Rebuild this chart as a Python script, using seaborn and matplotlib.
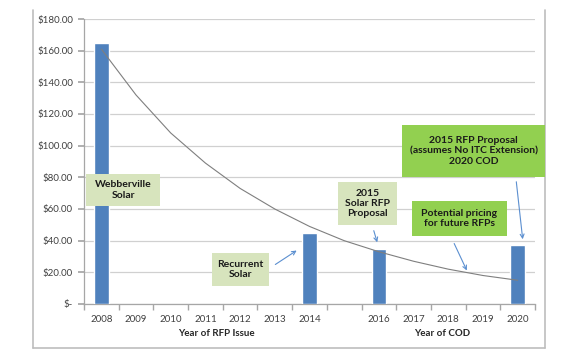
import numpy as np
import pandas as pd
import matplotlib
matplotlib.use('Agg')
import matplotlib.pyplot as plt
from matplotlib.patches import Rectangle, FancyArrowPatch
from matplotlib.lines import Line2D
import seaborn as sns

# Categories on the x axis (one empty slot between 2014 and 2016)
categories = ['2008', '2009', '2010', '2011', '2012', '2013', '2014',
              ' ', '2016', '2017', '2018', '2019', '2020']

# Bar values ($/MWh)
bar_years = ['2008', '2014', '2016', '2020']
bar_prices = [165, 45, 35, 37]

# Trend line, one value per category slot
trend_prices = [161, 132, 108, 89, 73, 60, 49, 40, 33, 27, 22, 18, 15]

ytick_values = [0, 20, 40, 60, 80, 100, 120, 140, 160, 180]

W, H = 580, 361


def px(x, y):
    # pixel position in the reference -> figure fraction
    return x / W, 1 - y / H


sns.set_theme(style='white')
plt.rcParams['font.family'] = ['Lato', 'DejaVu Sans']

fig = plt.figure(figsize=(W / 100, H / 100), dpi=100)
ax = fig.add_axes([84 / W, 1 - 304 / H, (535 - 84) / W, (304 - 19) / H])

df = pd.DataFrame({'year': bar_years, 'price': bar_prices})
sns.barplot(data=df, x='year', y='price', order=categories, color='#4f81bd',
            width=0.42, saturation=1, ax=ax, zorder=3)

sns.lineplot(x=np.arange(len(categories)), y=trend_prices, color='#7f7f7f',
             lw=0.8, ax=ax, zorder=4)

ax.set_xlim(-0.5, len(categories) - 0.5)
ax.set_ylim(0, 180)
ax.set_yticks(ytick_values)
ax.set_yticklabels(['$-' if v == 0 else f'${v:.2f}' for v in ytick_values])
ax.set_xticks(range(len(categories)))
ax.set_xticklabels(categories)
ax.set_xticks(np.arange(-0.5, len(categories), 1), minor=True)
ax.set_xlabel('')
ax.set_ylabel('')

ax.yaxis.grid(True, color='#d0d0d0', lw=0.9, zorder=0)
ax.set_axisbelow(True)
for side in ['top', 'right']:
    ax.spines[side].set_visible(False)
for side in ['left', 'bottom']:
    ax.spines[side].set_color('#a6a6a6')
    ax.spines[side].set_linewidth(0.9)

ax.tick_params(axis='y', which='major', length=4, color='#a6a6a6',
               labelsize=7, labelcolor='#404040', pad=4, left=True)
ax.tick_params(axis='x', which='major', length=0, labelsize=7,
               labelcolor='#404040', pad=8)
ax.tick_params(axis='x', which='minor', length=4, color='#a6a6a6', bottom=True)

# axis titles
fig.text(*px(216, 334), 'Year of RFP Issue', ha='center', va='center',
         fontsize=7, fontweight='bold', color='#262626')
fig.text(*px(442, 334), 'Year of COD', ha='center', va='center',
         fontsize=7, fontweight='bold', color='#262626')

# outer frame (left, right, bottom)
frame_color = '#bdbdbd'
for (x0, y0, x1, y1) in [(33, 10, 33, 348), (545, 10, 545, 348), (33, 348, 545, 348)]:
    fig.add_artist(Line2D([x0 / W, x1 / W], [1 - y0 / H, 1 - y1 / H],
                          color=frame_color, lw=1.2, transform=fig.transFigure))

light_green = '#d7e4bd'
green = '#92d050'

# (left, top, right, bottom, text, colour)
boxes = [
    (86, 174, 160, 206, 'Webberville\nSolar', light_green),
    (212, 253, 269, 286, 'Recurrent\nSolar', light_green),
    (338, 182, 397, 225, '2015\nSolar RFP\nProposal', light_green),
    (412, 201, 507, 236, 'Potential pricing\nfor future RFPs', green),
    (402, 125, 545, 177, '2015 RFP Proposal\n(assumes No ITC Extension)\n2020 COD', green),
]
for (l, t, r, b, label, col) in boxes:
    x0, y0 = px(l, b)
    fig.add_artist(Rectangle((x0, y0), (r - l) / W, (b - t) / H,
                             facecolor=col, edgecolor='none',
                             transform=fig.transFigure, zorder=5))
    fig.text(*px((l + r) / 2, (t + b) / 2), label, ha='center', va='center',
             fontsize=7.5, fontweight='bold', color='#1a1a1a',
             linespacing=1.2, zorder=6)

# arrows (start -> end, in reference pixels)
arrows = [
    ((273, 266), (299, 249)),
    ((373, 228), (378, 245)),
    ((453, 241), (468, 273)),
    ((516, 179), (523, 242)),
]
for (s, e) in arrows:
    fig.add_artist(FancyArrowPatch(
        px(*s), px(*e), transform=fig.transFigure, arrowstyle='->',
        mutation_scale=7, color='#5b8fd0', lw=0.8, zorder=7))

fig.savefig('out.png', dpi=100)
